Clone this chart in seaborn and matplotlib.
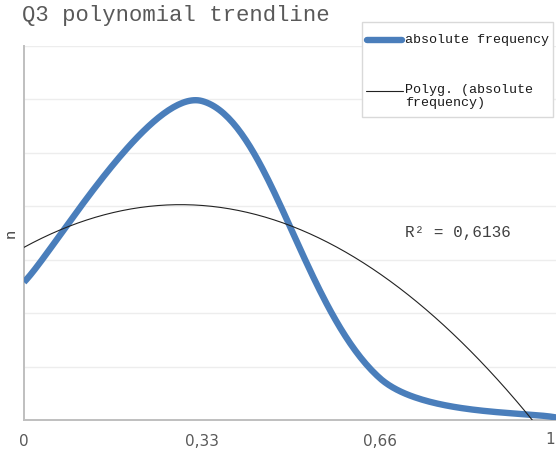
import numpy as np
import pandas as pd
import matplotlib
matplotlib.use("Agg")
import matplotlib.pyplot as plt
import seaborn as sns
from matplotlib.lines import Line2D
from matplotlib.patches import Rectangle

# ---- data ----
categories = [0, 0.33, 0.66, 1]
abs_freq = [2.58, 5.97, 0.78, 0.04]
x_tick_pos = [0, 1/3, 2/3, 1]
x_tick_labels = ["0", "0,33", "0,66", ""]
last_label = "1"
r2_text = "R\u00b2 = 0,6136"
title = "Q3 polynomial trendline"
series_label = "absolute frequency"
trend_label = "Polyg. (absolute\nfrequency)"

W, H = 556, 451
AX_L, AX_R, AX_T, AX_B = 24, 558, 46, 420
Y_MAX = 7
# category index positions (evenly spaced categories)
cat_pos = np.linspace(0, 1, len(categories))


def smooth_bezier(xs, ys, sx, sy, n=80):
    """Spreadsheet-style smoothed line: cubic Bezier segments whose control
    points follow the neighbouring points, scaled by screen chord lengths."""
    P = np.column_stack([np.asarray(xs, float) * sx, np.asarray(ys, float) * sy])
    k = len(P)
    t = np.linspace(0, 1, n)[:, None]
    pts = []
    for i in range(k - 1):
        p0 = P[i - 1] if i > 0 else P[i]
        p1, p2 = P[i], P[i + 1]
        p3 = P[i + 2] if i + 2 < k else P[i + 1]
        d01 = np.hypot(*(p1 - p0))
        d12 = np.hypot(*(p2 - p1))
        d23 = np.hypot(*(p3 - p2))
        f1 = (d12 / (d01 + d12) / 3) if d01 > 0 else 1 / 6
        f2 = (d12 / (d12 + d23) / 3) if d23 > 0 else 1 / 6
        c1 = p1 + (p2 - p0) * f1
        c2 = p2 - (p3 - p1) * f2
        seg = ((1 - t) ** 3) * p1 + 3 * ((1 - t) ** 2) * t * c1 \
            + 3 * (1 - t) * t ** 2 * c2 + t ** 3 * p2
        pts.append(seg if i == 0 else seg[1:])
    pts = np.vstack(pts)
    return pts[:, 0] / sx, pts[:, 1] / sy


sns.set_style("white")
plt.rcParams["font.family"] = ["DejaVu Sans"]

fig = plt.figure(figsize=(W / 100, H / 100), dpi=100)
ax = fig.add_axes([AX_L / W, (H - AX_B) / H, (AX_R - AX_L) / W, (AX_B - AX_T) / H])

px_x = AX_R - AX_L
px_y = (AX_B - AX_T) / Y_MAX
sx_, sy_ = smooth_bezier(cat_pos, abs_freq, px_x, px_y)
df_main = pd.DataFrame({"x": sx_, "y": sy_})
sns.lineplot(data=df_main, x="x", y="y", ax=ax, color="#4a7ebb", linewidth=4.6,
             sort=False, estimator=None, solid_capstyle="butt", zorder=3)

# polynomial (order 2) trendline fitted to the series
coef = np.polyfit(cat_pos, abs_freq, 2)
tx = np.linspace(0, 1, 300)
df_trend = pd.DataFrame({"x": tx, "y": np.polyval(coef, tx)})
sns.lineplot(data=df_trend, x="x", y="y", ax=ax, color="#222222", linewidth=0.8,
             sort=False, estimator=None, zorder=4)

ax.set_xlim(0, 1)
ax.set_ylim(0, Y_MAX)
ax.set_yticks(range(0, Y_MAX + 1))
ax.set_yticklabels([])
ax.yaxis.grid(True, color="#ededed", linewidth=1.0)
ax.xaxis.grid(False)
ax.set_axisbelow(True)

ax.set_xticks(x_tick_pos)
ax.set_xticklabels(x_tick_labels, fontsize=11, color="#595959")
ax.set_xticks([1/6, 1/2, 5/6], minor=True)
ax.tick_params(axis="x", which="major", direction="out", length=5, width=1.1,
               color="#bfbfbf", pad=5)
ax.tick_params(axis="x", which="minor", direction="in", length=3, width=1.1,
               color="#bfbfbf")
ax.tick_params(axis="y", which="major", direction="out", length=4, width=1.1,
               color="#bfbfbf")
# label of the last tick (its tick sits just past the picture's right edge)
ax.annotate(last_label, xy=(1, 0), xycoords=("data", "axes fraction"),
            xytext=(-2.5, -8.5), textcoords="offset points",
            ha="right", va="top", fontsize=11, color="#595959",
            annotation_clip=False)

for s in ["top", "right"]:
    ax.spines[s].set_visible(False)
for s in ["left", "bottom"]:
    ax.spines[s].set_color("#bfbfbf")
    ax.spines[s].set_linewidth(1.4)

ax.set_xlabel("")
ax.set_ylabel("n", family="Liberation Mono", fontsize=11, color="#404040")
ax.yaxis.set_label_coords(-13 / 534, (420 - 233) / 374)
ax.yaxis.label.set_verticalalignment("center")

fig.text(22 / W, 1 - 15 / H, title, family="Liberation Mono", fontsize=16,
         color="#595959", ha="left", va="center")

fig.text(405 / W, 1 - 233 / H, r2_text,
         family="Liberation Mono", fontsize=11.5, color="#404040",
         ha="left", va="center")

# ---- legend box (drawn in figure pixel positions) ----
def fx(px):
    return px / W


def fy(py):
    return 1 - py / H


fig.add_artist(Rectangle((fx(362), fy(117)), (553 - 362) / W, (117 - 22) / H,
                         transform=fig.transFigure, facecolor="white",
                         edgecolor="#d9d9d9", linewidth=1.0, zorder=5))
fig.add_artist(Line2D([fx(367), fx(402)], [fy(40), fy(40)], transform=fig.transFigure,
                      color="#4a7ebb", linewidth=4.6, solid_capstyle="round", zorder=6))
fig.add_artist(Line2D([fx(366), fx(403)], [fy(91), fy(91)], transform=fig.transFigure,
                      color="#222222", linewidth=0.8, zorder=6))
leg_font = {"family": "Liberation Mono", "size": 9.6, "color": "#1a1a1a"}
fig.text(fx(405), fy(40), series_label, ha="left", va="center", zorder=7, **leg_font)
fig.text(fx(405), fy(84), trend_label, ha="left", va="top", linespacing=1.12,
         zorder=7, **leg_font)

fig.savefig("out.png", dpi=100)
